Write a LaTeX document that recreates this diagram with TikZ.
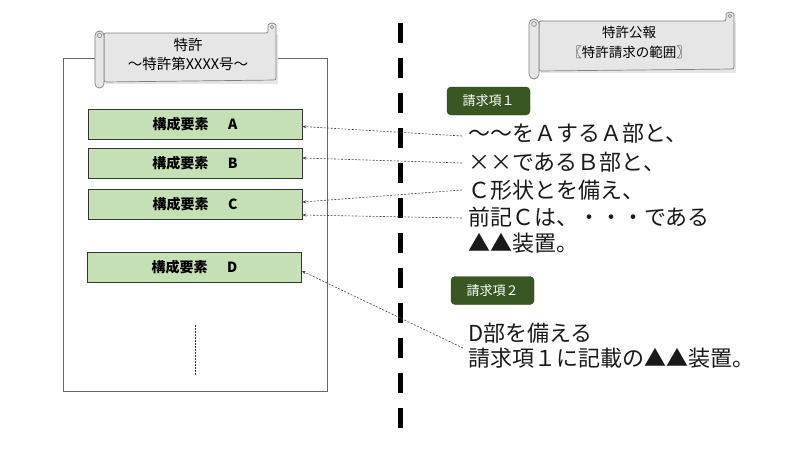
\documentclass[tikz,border=0pt]{standalone}
\usepackage{fontspec}
\setmainfont{Noto Sans CJK JP}
\usetikzlibrary{arrows.meta}
\definecolor{boxgreen}{HTML}{C5E0B4}
\definecolor{darkgreen}{HTML}{385723}
\definecolor{scrollgray}{HTML}{E7E6E6}
\definecolor{scrollline}{HTML}{7F7F7F}
\newcommand{\fw}[1]{\makebox[1em]{#1}}
\begin{document}
\begin{tikzpicture}[x=1pt,y=-1pt,
  elem/.style={draw=black!80, line width=0.6pt, fill=boxgreen, minimum width=214pt,
    minimum height=30pt, inner sep=0pt, font=\fontsize{14}{16}\selectfont\bfseries},
  claimlabel/.style={draw=darkgreen!80!black, fill=darkgreen, rounded corners=4pt, text=white,
    minimum width=83pt, minimum height=28pt, inner sep=0pt, font=\fontsize{13}{15}\selectfont},
  claimtext/.style={anchor=west, inner sep=0pt, font=\fontsize{22}{26}\selectfont, text=black!90},
  refline/.style={dash pattern=on 2pt off 1.5pt, line width=0.6pt, draw=black!75,
    -{Stealth[length=4pt,width=3pt]}},
  scrollbody/.style={draw=scrollline, fill=scrollgray, line width=0.7pt},
  scrolltext/.style={align=center, inner sep=0pt, text=black}
]
\useasboundingbox (0,0) rectangle (800,450);

% document frame
\draw[draw=black!60, line width=0.8pt] (63,58) rectangle (327,391);

% scroll 1
\fill[black!10] (105.5,34.5) rectangle (277.5,83.5);
\draw[scrollbody, rounded corners=2pt] (104,33) -- (268,33) -- (268,27)
  arc[start angle=180, end angle=360, radius=4] -- (276,80) -- (104,82) -- cycle;
\draw[scrollline, line width=0.6pt] (272,27) circle[radius=1.8];
\draw[scrollbody, rounded corners=4.4pt] (95,31) rectangle (104,88);
\draw[scrollline, line width=0.6pt] (99.5,35.5) circle[radius=2.2];
\node[scrolltext, font=\fontsize{14.5}{19}\selectfont] (s1) at (188,54.5) {特許\\～特許第XXXX号～};

% scroll 2
\fill[black!10] (540.5,22.5) rectangle (735.5,72.5);
\draw[scrollbody, rounded corners=2pt] (539,21) -- (726,21) -- (726,16)
  arc[start angle=180, end angle=360, radius=4] -- (734,69) -- (539,71) -- cycle;
\draw[scrollline, line width=0.6pt] (730,16) circle[radius=1.8];
\draw[scrollbody, rounded corners=4.9pt] (529,19) rectangle (539,79);
\draw[scrollline, line width=0.6pt] (534,24) circle[radius=2.4];
\node[scrolltext, font=\fontsize{13.5}{20}\selectfont] (s2) at (629,42) {特許公報\\〖特許請求の範囲〗};

% elements
\node[elem] (A) at (195,124.5) {構成要素\hspace{1.4em}A};
\node[elem] (B) at (195,163) {構成要素\hspace{1.4em}B};
\node[elem] (C) at (195,204.5) {構成要素\hspace{1.4em}C};
\node[elem] (D) at (194.5,267.5) {構成要素\hspace{1.4em}D};

% dotted continuation
\draw[black!80, line width=0.6pt, dash pattern=on 1.5pt off 1.5pt] (195,325) -- (195,375);

% divider
\draw[line width=5pt, dash pattern=on 20pt off 15pt] (400,23) -- (400,428);

% claim labels
\node[claimlabel] (c1) at (488.5,101) {請求項１};
\node[claimlabel] (c2) at (492.5,290.5) {請求項２};

% claim texts
\node[claimtext] (l1) at (468,133) {～～をＡするＡ部と、};
\node[claimtext] (l2) at (468,162) {\fw{×}\fw{×}であるＢ部と、};
\node[claimtext] (l3) at (468,190) {Ｃ形状とを備え、};
\node[claimtext] (l4) at (468,217) {前記Ｃは、・・・である};
\node[claimtext] (l5) at (468,243) {▲▲装置。};
\node[claimtext] (l6) at (468,333) {D部を備える};
\node[claimtext] (l7) at (468,358) {請求項１に記載の▲▲装置。};

% reference arrows
\draw[refline] ([xshift=-6pt,yshift=-3pt]l1.west) -- ([yshift=-2pt]A.east);
\draw[refline] ([xshift=-6pt,yshift=-1pt]l2.west) -- ([yshift=5pt]B.east);
\draw[refline] ([xshift=-6pt]l3.west) -- ([yshift=2.5pt]C.east);
\draw[refline] ([xshift=-6pt,yshift=-1pt]l4.west) -- ([yshift=-10.5pt]C.east);
\draw[refline] ([xshift=-5pt,yshift=-15pt]l6.west) -- ([yshift=-3.5pt]D.east);
\end{tikzpicture}
\end{document}
